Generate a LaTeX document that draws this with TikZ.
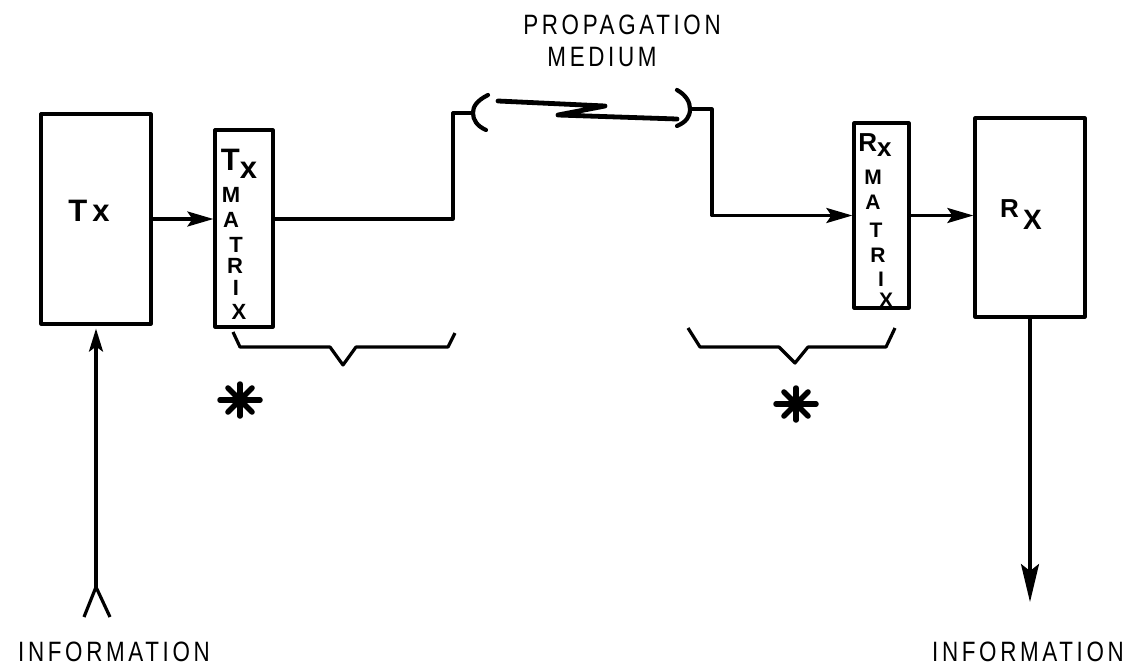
\documentclass[tikz,border=0pt]{standalone}
\usepackage{fontspec}
\setmainfont{Liberation Sans}
\newfontfamily\thinlbl[FakeStretch=0.8,LetterSpace=13]{Liberation Sans}
\usetikzlibrary{arrows.meta}

% eight-armed asterisk mark
\newcommand\drawstar[1]{%
  \foreach \a/\r in {0/20,45/17,90/16,135/17}{%
    \draw[line width=5.5pt,line cap=round] ([shift={(\a:\r)}]#1) -- ([shift={(\a+180:\r)}]#1);
  }
  \fill (#1) circle (8);
}

\begin{document}
\begin{tikzpicture}[x=1pt,y=-1pt,line width=3.2pt,line join=round,
  box/.style={draw,rectangle,inner sep=0pt},
  arr/.style={-{Stealth[length=26pt,width=15pt,inset=5pt]}},
  uparr/.style={-{Stealth[length=23pt,width=14pt,inset=5pt]}},
  downarr/.style={-{Stealth[length=38pt,width=18pt,inset=7pt]}},
  caption/.style={font=\thinlbl\fontsize{28}{30}\selectfont,inner sep=0pt},
  biglbl/.style={font=\bfseries\fontsize{31}{32}\selectfont,inner sep=0pt},
  hdlbl/.style={font=\bfseries\fontsize{26}{28}\selectfont,inner sep=0pt},
  tmletter/.style={font=\bfseries\fontsize{22}{23}\selectfont,inner sep=0pt},
  rmletter/.style={font=\bfseries\fontsize{21}{22}\selectfont,inner sep=0pt},
  medium/.style={line width=4.2pt,line cap=round}]
\useasboundingbox (0,0) rectangle (1136,667);

% blocks
\node[box,minimum width=110pt,minimum height=210pt] (tx)  at (96,219) {};
\node[box,minimum width=58pt, minimum height=197pt] (txm) at (244,228.5) {};
\node[box,minimum width=55pt, minimum height=185pt] (rxm) at (881.5,215.5) {};
\node[box,minimum width=110pt,minimum height=199pt] (rx)  at (1030,217.5) {};

% block labels
\node[biglbl] (txlbl) at (89,211) {T\,x};
\node[biglbl] (txmhead) at (239,164) {T\raisebox{-8pt}{x}};
\foreach \ch/\px/\py [count=\k] in {M/231/195,A/231/220,T/236/245,R/235/266,I/236/288,X/239/312}
  \node[tmletter] (tm\k) at (\px,\py) {\ch};
\node[hdlbl] (rxmhead) at (875,145) {R\raisebox{-5pt}{x}};
\foreach \ch/\px/\py [count=\k] in {M/873/177,A/873/202,T/876/230,R/878/255,I/881/279,X/886/300}
  \node[rmletter] (rm\k) at (\px,\py) {\ch};
\node[hdlbl] (rxlbl) at (1021,215) {R\,\raisebox{-12pt}{\fontsize{28}{28}\selectfont X}};

% propagation medium
\coordinate (lbend) at (453,113);
\coordinate (lmed)  at (473,113);
\coordinate (rmed)  at (690,109);
\coordinate (rbend) at (712,109);
\draw[medium] (488,95) .. controls (476,101) and (473,107) .. (lmed)
              .. controls (473,120) and (477,126) .. (486,130);
\draw[medium] (677,90) .. controls (686,95) and (690,102) .. (rmed)
              .. controls (690,117) and (686,122) .. (677,126);
\draw[line width=4.8pt,line cap=round] (498,101) -- (605,106) -- (558,115) -- (677,119);

% signal path
\coordinate (fork)  at (96,587);
\coordinate (forkL) at (84,617);
\coordinate (forkR) at (110,617);
\coordinate (sink)  at (1030,602);
\draw (fork) -- (forkL) (fork) -- (forkR);
\draw[uparr] (fork) -- ([yshift=-3pt]tx.south);
\draw[arr] (tx.east) -- (txm.west |- tx.east);
\draw (txm.east |- tx.east) -| (lbend) -- (lmed);
\draw[arr] (rmed) -- (rbend) |- (rxm.west);
\draw[arr] (rxm.east) -- (rx.west |- rxm.east);
\draw[downarr] (rx.south) -- (sink);

% braces
\draw (233,332) -- (240,347) -- (330,347) -- (343,365) -- (356,347) -- (448,347) -- (455,333);
\draw (688,328) -- (700,347) -- (779,347) -- (795,363) -- (808,347) -- (886,347) -- (895,328);

% asterisks
\coordinate (s1) at (240,400);
\coordinate (s2) at (796,404);
\drawstar{s1}
\drawstar{s2}

% captions
\node[caption] (prop)  at (622,25)  {PROPAGATION};
\node[caption] (med)   at (602,57)  {MEDIUM};
\node[caption] (infoL) at (114,652) {INFORMATION};
\node[caption] (infoR) at (1028,652) {INFORMATION};
\end{tikzpicture}
\end{document}
